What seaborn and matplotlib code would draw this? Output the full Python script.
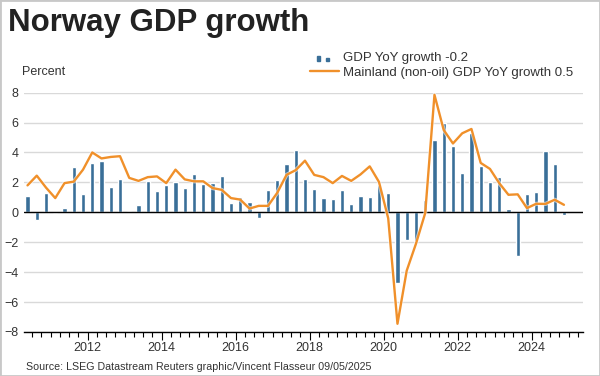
import numpy as np
import pandas as pd
import matplotlib
matplotlib.use("Agg")
import matplotlib.pyplot as plt
import matplotlib.patheffects as pe
from matplotlib.lines import Line2D
from matplotlib.patches import Rectangle
import seaborn as sns

# Quarterly data, 2010 Q2 .. 2024 Q4 (YoY growth, percent)
quarters = pd.period_range("2010Q2", "2024Q4", freq="Q")

gdp_yoy = [
    1.1, -0.5, 1.3, -0.05, 0.3, 3.0, 1.2, 3.3, 3.4, 1.7,
    2.2, 0.1, 0.5, 2.1, 1.4, 1.85, 2.0, 1.6, 2.55, 1.9,
    1.95, 2.45, 0.65, 1.0, 0.7, -0.4, 1.5, 2.15, 3.2, 4.15,
    2.25, 1.55, 0.95, 0.9, 1.5, 0.55, 1.1, 1.0, 1.8, 1.3,
    -4.75, -1.85, -1.9, 0.85, 4.8, 5.95, 4.45, 2.6, 5.3, 3.1,
    2.0, 2.35, 0.2, -2.9, 1.2, 1.35, 4.1, 3.25, -0.2,
]

mainland_yoy = [
    1.8, 2.45, 1.65, 0.95, 1.95, 2.05, 2.85, 4.0, 3.6, 3.7,
    3.75, 2.3, 2.1, 2.35, 2.4, 1.95, 2.85, 2.2, 2.07, 2.07,
    1.62, 1.5, 0.95, 0.85, 0.25, 0.43, 0.43, 1.3, 2.5, 2.82,
    3.45, 2.5, 2.35, 1.95, 2.43, 2.1, 2.53, 3.07, 2.03, -0.4,
    -7.45, -3.9, -2.1, -0.05, 7.85, 5.5, 4.6, 5.28, 5.57, 3.3,
    2.9, 1.95, 1.17, 1.2, 0.28, 0.57, 0.56, 0.84, 0.5,
]

year_ticks = list(range(2012, 2025, 2))
y_ticks = list(range(-8, 9, 2))

bar_label = "GDP YoY growth -0.2"
line_label = "Mainland (non-oil) GDP YoY growth 0.5"

# place each quarter at its middle, in fractional years
df = pd.DataFrame({
    "x": quarters.year + (quarters.quarter - 0.5) / 4,
    "gdp": gdp_yoy,
    "mainland": mainland_yoy,
})

bar_color = "#3a6f98"
line_color = "#f0902a"
text_color = "#333333"


class TwoBarsHandler:
    # legend key: a tall and a short little bar, like the reference
    def legend_artist(self, legend, orig_handle, fontsize, handlebox):
        x0, y0 = handlebox.xdescent, handlebox.ydescent
        tr = handlebox.get_transform()
        r1 = Rectangle((x0 + 5, y0 + 0.3), 2.2, 3.8, color=bar_color, transform=tr)
        r2 = Rectangle((x0 + 11.5, y0 + 0.3), 2.3, 2.3, color=bar_color, transform=tr)
        handlebox.add_artist(r1)
        handlebox.add_artist(r2)
        return r1


sns.set_theme(style="white")
plt.rcParams["font.family"] = ["Liberation Sans", "DejaVu Sans"]

fig = plt.figure(figsize=(6, 3.76), dpi=100)
ax = fig.add_axes([24 / 600, 1 - 332 / 376, (583 - 24) / 600, (332 - 92.6) / 376])

sns.barplot(data=df, x="x", y="gdp", native_scale=True, width=0.45,
            color=bar_color, saturation=1, errorbar=None, ax=ax, zorder=2)
sns.lineplot(data=df, x="x", y="mainland", color=line_color, lw=1.7,
             ax=ax, zorder=4)
ax.lines[-1].set_path_effects([pe.Stroke(linewidth=3.0, foreground="white", alpha=0.6), pe.Normal()])

ax.axhline(0, color="black", lw=1, zorder=3)

ax.set_xlim(2010.28, 2025.39)
ax.set_ylim(-8, 8)
ax.set_xlabel("")
ax.set_ylabel("")

ax.set_xticks(year_ticks)
ax.set_xticklabels([str(y) for y in year_ticks])
ax.set_xticks(np.arange(2010.5, 2025.3, 0.25), minor=True)
ax.tick_params(axis="x", which="major", bottom=True, length=6, width=0.8,
               color="black", direction="out", pad=1.5, labelsize=9, labelcolor=text_color)
ax.tick_params(axis="x", which="minor", bottom=True, length=3.5, width=0.8,
               color="black", direction="out")

ax.set_yticks(y_ticks)
ax.tick_params(axis="y", length=0, pad=4, labelsize=9, labelcolor=text_color)

ax.yaxis.grid(True, color="#d9d9d9", lw=1)
ax.xaxis.grid(False)
ax.set_axisbelow(True)

for side in ["left", "top", "right"]:
    ax.spines[side].set_visible(False)
ax.spines["bottom"].set_color("black")
ax.spines["bottom"].set_linewidth(1)

# legend
bars_key = Rectangle((0, 0), 1, 1, color=bar_color)
line_key = Line2D([], [], color=line_color, lw=1.7)
fig.legend([bars_key, line_key], [bar_label, line_label],
           handler_map={Rectangle: TwoBarsHandler()},
           loc="upper left", bbox_to_anchor=(310 / 600, 1 - 52 / 376),
           frameon=False, fontsize=9.5, labelcolor=text_color,
           handlelength=2.2, handletextpad=0.3, labelspacing=0.2,
           borderpad=0, borderaxespad=0)

fig.text(8 / 600, 1 - 8 / 376, "Norway GDP growth", fontsize=22.5,
         fontweight="bold", color="#222222", ha="left", va="top")
fig.text(22 / 600, 1 - 72 / 376, "Percent", fontsize=9, color=text_color,
         ha="left", va="center")
fig.text(26 / 600, 1 - 367 / 376,
         "Source: LSEG Datastream Reuters graphic/Vincent Flasseur 09/05/2025",
         fontsize=7.7, color=text_color, ha="left", va="center")

fig.add_artist(Rectangle((0, 0), 1, 1, transform=fig.transFigure, fill=False,
                         edgecolor="#c8c8c8", lw=2))

fig.savefig("out.png", dpi=100)
